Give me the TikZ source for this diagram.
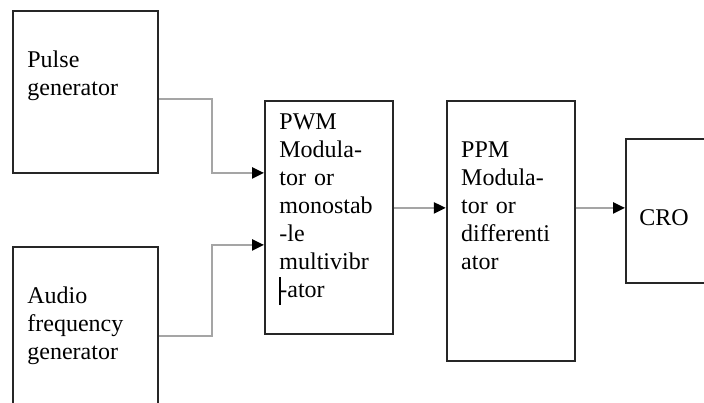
\documentclass[tikz,border=0pt]{standalone}
\usepackage{fontspec}
\setmainfont{Liberation Serif}
\usepackage{xcolor}
\usepackage{tikz}
\usetikzlibrary{arrows.meta, positioning}
\definecolor{wire}{RGB}{165,165,165}
\tikzset{
    block/.style={rectangle, draw=black!85, line width=0.9pt, inner sep=0pt},
    boxtext/.style={anchor=base west, inner sep=0pt, text width=62pt, align=left, font=\fontsize{12}{14}\selectfont},
    arrow/.style={draw=wire, line width=1.2pt, -{Triangle[length=6pt, width=5.5pt, color=black]}}
}
\begin{document}
\begin{tikzpicture}[x=1pt, y=1pt]
            \useasboundingbox (0,0) rectangle (352,-201);

            \node (pulse) [block, minimum width=72.5pt, minimum height=81pt, anchor=north west] at (6,-5) {};
            \node (audio) [block, minimum width=72.5pt, minimum height=93pt, below=36pt of pulse] {};
            \node (pwm) [block, minimum width=64pt, minimum height=116.5pt, anchor=north west] at (132,-50) {};
            \node (ppm) [block, minimum width=64pt, minimum height=130pt, below right=0pt and 26pt of pwm.north east] {};
            \node (cro) [block, minimum width=50pt, minimum height=72pt, anchor=north west] at (312.5,-69) {};

            \node (pulsetxt) [boxtext] at ([shift={(7.5,-28.8)}]pulse.north west) {Pulse\\generator};
            \node (audiotxt) [boxtext] at ([shift={(7.5,-28.8)}]audio.north west) {Audio\\frequency\\generator};
            \node (pwmtxt) [boxtext] at ([shift={(7.5,-14.5)}]pwm.north west) {PWM\\Modula-\\tor or\\monostab\\-le\\multivibr\\\makebox[0pt][l]{\rule[-4pt]{0.8pt}{14pt}}-ator};
            \node (ppmtxt) [boxtext] at ([shift={(7.5,-28.5)}]ppm.north west) {PPM\\Modula-\\tor or\\differenti\\ator};
            \node (crotxt) [boxtext] at ([shift={(7,-43.5)}]cro.north west) {CRO};

            \coordinate (pwmout) at ([yshift=4.75pt]pwm.east);
            \coordinate (croin) at ([yshift=1.5pt]cro.west);

            \draw[arrow] ([yshift=-3.5pt]pulse.east) -- ++(26.5,0) |- ([yshift=22.25pt]pwm.west);
            \draw[arrow] ([yshift=2pt]audio.east) -- ++(26.5,0) |- ([yshift=-13.75pt]pwm.west);
            \draw[arrow] (pwmout) -- (pwmout -| ppm.west);
            \draw[arrow] (croin -| ppm.east) -- (croin);
        \end{tikzpicture}
\end{document}
